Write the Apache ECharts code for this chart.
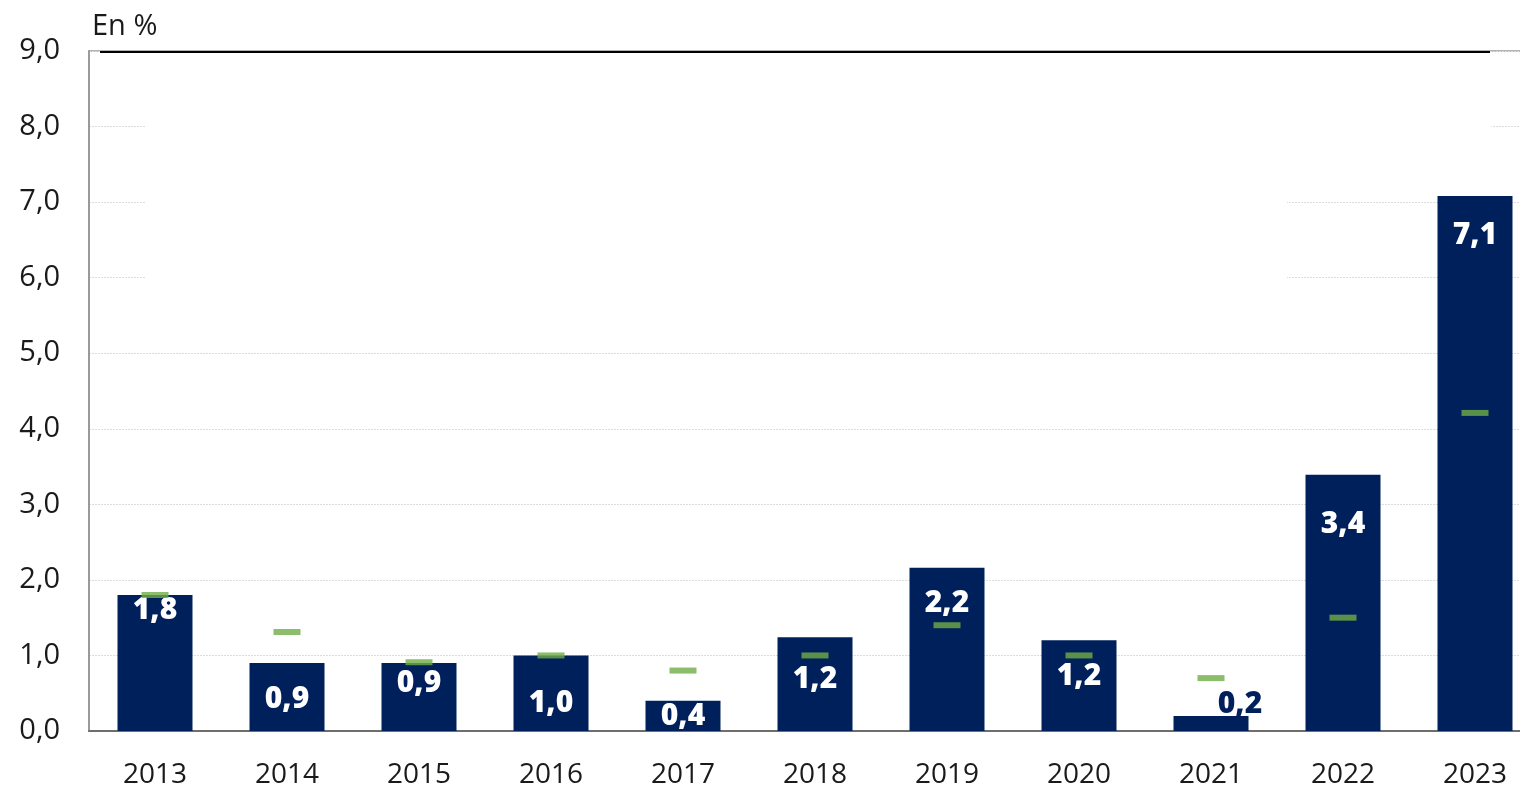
<!DOCTYPE html>
<html>
<head>
<meta charset="utf-8">
<script src="https://cdn.jsdelivr.net/npm/echarts@6/dist/echarts.min.js"></script>
<style>
html,body{margin:0;padding:0;background:#fff;overflow:hidden;}
#c{width:1541px;height:789px;}
</style>
</head>
<body>
<div id="c"></div>
<script>
const years = ['2013','2014','2015','2016','2017','2018','2019','2020','2021','2022','2023'];
const barValues = [1.8, 0.9, 0.9, 1.0, 0.4, 1.24, 2.16, 1.2, 0.2, 3.39, 7.08];
const barLabels = ['1,8','0,9','0,9','1,0','0,4','1,2','2,2','1,2','0,2','3,4','7,1'];
const markerValues = [1.8, 1.31, 0.91, 1.0, 0.8, 1.0, 1.4, 1.0, 0.7, 1.5, 4.21];
const yTicks = [0,1,2,3,4,5,6,7,8,9];
const unitLabel = 'En %';

// label layout (style only)
const labelDy = [15, 36, 20, 48, 16, 42, 36, 36, -11, 50, 39];

const NAVY = '#00205b';
const GREEN = '#6fac46';
const FONT = '"Open Sans", "DejaVu Sans", sans-serif';

const chart = echarts.init(document.getElementById('c'));

const barData = barValues.map((v, i) => {
  const outside = i === 8;
  return {
    value: v,
    label: {
      show: true,
      formatter: barLabels[i],
      position: ['50%', labelDy[i]],
      align: 'center',
      verticalAlign: 'middle',
      offset: outside ? [29, 0] : [0, 0],
      color: outside ? NAVY : '#ffffff',
      fontFamily: FONT,
      fontWeight: 800,
      fontSize: 30
    }
  };
});

chart.setOption({
  animation: false,
  backgroundColor: '#ffffff',
  grid: {
    left: 89, top: 51, right: 0, bottom: 56,
    show: true, borderColor: '#9a9a9a', borderWidth: 1.5, backgroundColor: 'transparent'
  },
  xAxis: {
    type: 'category',
    data: years,
    axisTick: { show: false },
    axisLine: { show: true, lineStyle: { color: '#6e6e6e', width: 2 } },
    axisLabel: { color: '#1a1a1a', fontFamily: FONT, fontSize: 28, margin: 30 },
    splitLine: { show: false }
  },
  yAxis: {
    type: 'value',
    min: 0, max: 9, interval: 1,
    axisLine: { show: true, lineStyle: { color: '#9a9a9a', width: 2 } },
    axisTick: { show: false },
    axisLabel: {
      color: '#1a1a1a', fontFamily: FONT, fontSize: 29, margin: 29,
      formatter: v => yTicks.includes(v) ? v.toFixed(1).replace('.', ',') : ''
    },
    splitLine: { show: true, lineStyle: { color: '#dcdcdc', width: 1, type: [2, 1] } }
  },
  series: [
    {
      type: 'bar',
      data: barData,
      barWidth: 75,
      itemStyle: { color: NAVY },
      z: 3
    },
    {
      type: 'scatter',
      data: markerValues,
      symbol: 'rect',
      symbolSize: [27, 6],
      itemStyle: { color: GREEN },
      z: 5
    }
  ],
  graphic: []
});

// decorative overlays (masking of upper gridlines, top black rule)
const y9 = chart.convertToPixel({ yAxisIndex: 0 }, 9);
const y8 = chart.convertToPixel({ yAxisIndex: 0 }, 8);
const y6 = chart.convertToPixel({ yAxisIndex: 0 }, 6);
chart.setOption({
  graphic: [
    { type: 'rect', z: 1, shape: { x: 146, y: y9 + 4, width: 1141, height: (y6 - y9) + 6 }, style: { fill: '#ffffff' } },
    { type: 'rect', z: 1, shape: { x: 1287, y: y8 - 4, width: 204, height: 8 }, style: { fill: '#ffffff' } },
    { type: 'line', z: 2, shape: { x1: 100, y1: y9 + 1, x2: 1490, y2: y9 + 1 }, style: { stroke: '#000000', lineWidth: 2 } },
    { type: 'text', z: 2, left: 92, top: 12, style: { text: unitLabel, fill: '#1a1a1a', font: '29px ' + FONT } }
  ]
});
</script>
</body>
</html>
